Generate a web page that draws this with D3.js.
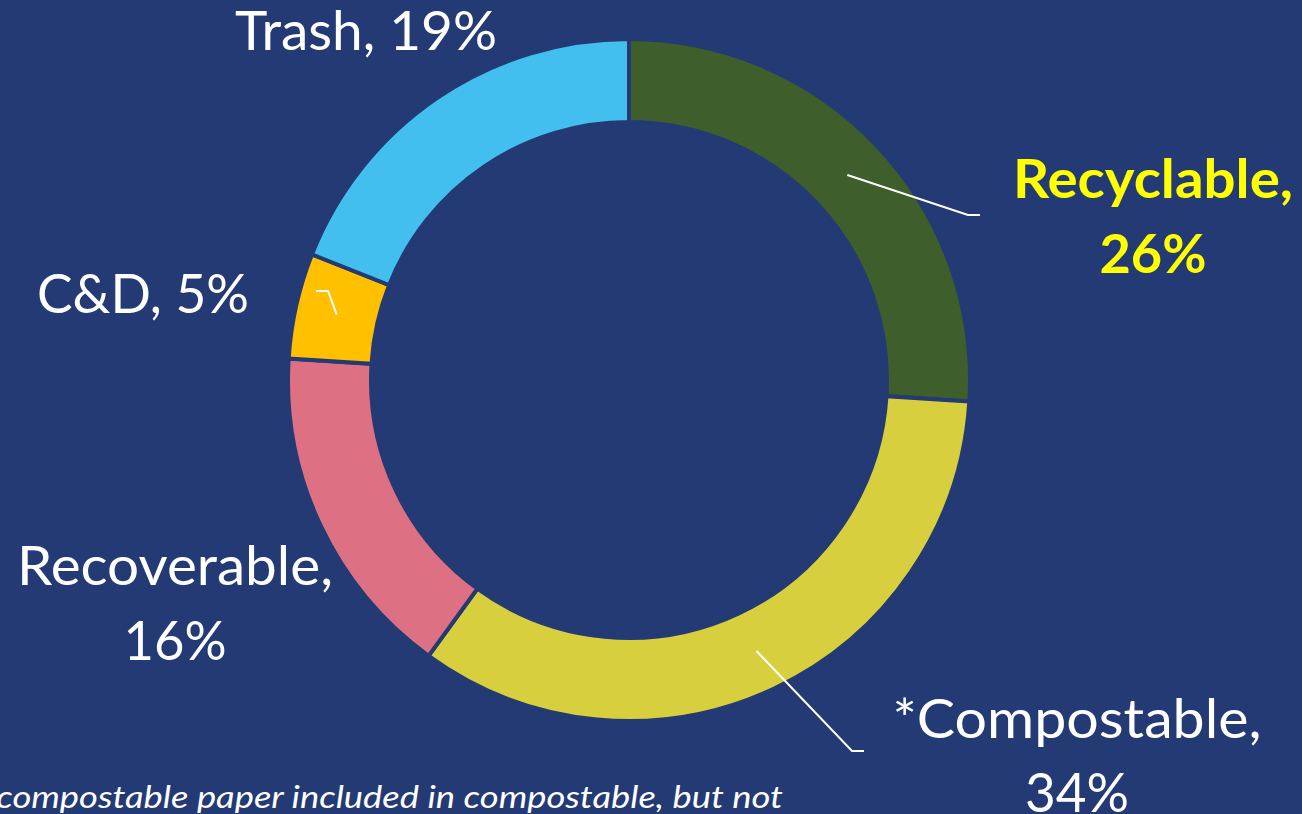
<!DOCTYPE html>
<html><head><meta charset="utf-8">
<script src="https://cdn.jsdelivr.net/npm/d3@7"></script>
<style>html,body{margin:0;padding:0;background:#233a74;overflow:hidden}svg{display:block}</style>
</head><body>
<svg id="c" width="1302" height="814"></svg>
<script>
const categories = ["Recyclable", "*Compostable", "Recoverable", "C&D", "Trash"];
const values = [26, 34, 16, 5, 19];
const colors = ["#3e5f2b", "#d8cf3e", "#de7083", "#ffc000", "#42bfee"];
const footnote = "*compostable paper included in compostable, but not";

const W = 1302, H = 814, cx = 629, cy = 380, R = 341, r0 = 258;
const bg = "#233a74";
const svg = d3.select("#c");
svg.append("rect").attr("width", W).attr("height", H).attr("fill", bg);

const pie = d3.pie().sort(null).value(d => d)(values);
const arc = d3.arc().innerRadius(r0).outerRadius(R);
const mid = d3.arc().innerRadius((r0 + R) / 2).outerRadius((r0 + R) / 2);
const g = svg.append("g").attr("transform", `translate(${cx},${cy})`);
g.selectAll("path").data(pie).join("path")
  .attr("d", arc).attr("fill", (d, i) => colors[i])
  .attr("stroke", bg).attr("stroke-width", 4).attr("stroke-linejoin", "miter");

const font = "Lato, 'Open Sans', sans-serif";
const labels = [
  { i: 0, x: 1153, ys: [198, 273], lens: [280, 107], bold: true, fill: "#ffff00", elbow: [968 - cx, 215 - cy], endx: 980 - cx },
  { i: 1, x: 1077, ys: [738, 812], lens: [369, 104], elbow: [852 - cx, 751 - cy], endx: 864 - cx },
  { i: 2, x: 175, ys: [585, 660], lens: [316, 103] },
  { i: 3, x: 143, ys: [313], lens: [212], single: true, elbow: [328 - cx, 291 - cy], endx: 316 - cx },
  { i: 4, x: 366, ys: [50], lens: [262], single: true }
];
labels.forEach(L => {
  const name = categories[L.i], pct = values[L.i] + "%";
  const lines = L.single ? [name + ", " + pct] : [name + ",", pct];
  lines.forEach((t, k) => {
    svg.append("text").attr("x", L.x).attr("y", L.ys[k])
      .attr("text-anchor", "middle")
      .attr("font-family", font).attr("font-size", 54)
      .attr("font-weight", L.bold ? 700 : 400)
      .attr("fill", L.fill || "#ffffff")
      .attr("textLength", L.lens[k]).attr("lengthAdjust", "spacingAndGlyphs")
      .text(t);
  });
  if (L.elbow) {
    const c = mid.centroid(pie[L.i]);
    g.append("polyline")
      .attr("points", [c, L.elbow, [L.endx, L.elbow[1]]].map(p => p.join(",")).join(" "))
      .attr("fill", "none").attr("stroke", "#ffffff").attr("stroke-width", 2);
  }
});

svg.append("text").attr("x", 783).attr("y", 808).attr("text-anchor", "end")
  .attr("font-family", font).attr("font-style", "italic").attr("font-size", 31)
  .attr("fill", "#ffffff")
  .attr("textLength", 800).attr("lengthAdjust", "spacingAndGlyphs")
  .text(footnote);
</script>
</body></html>
